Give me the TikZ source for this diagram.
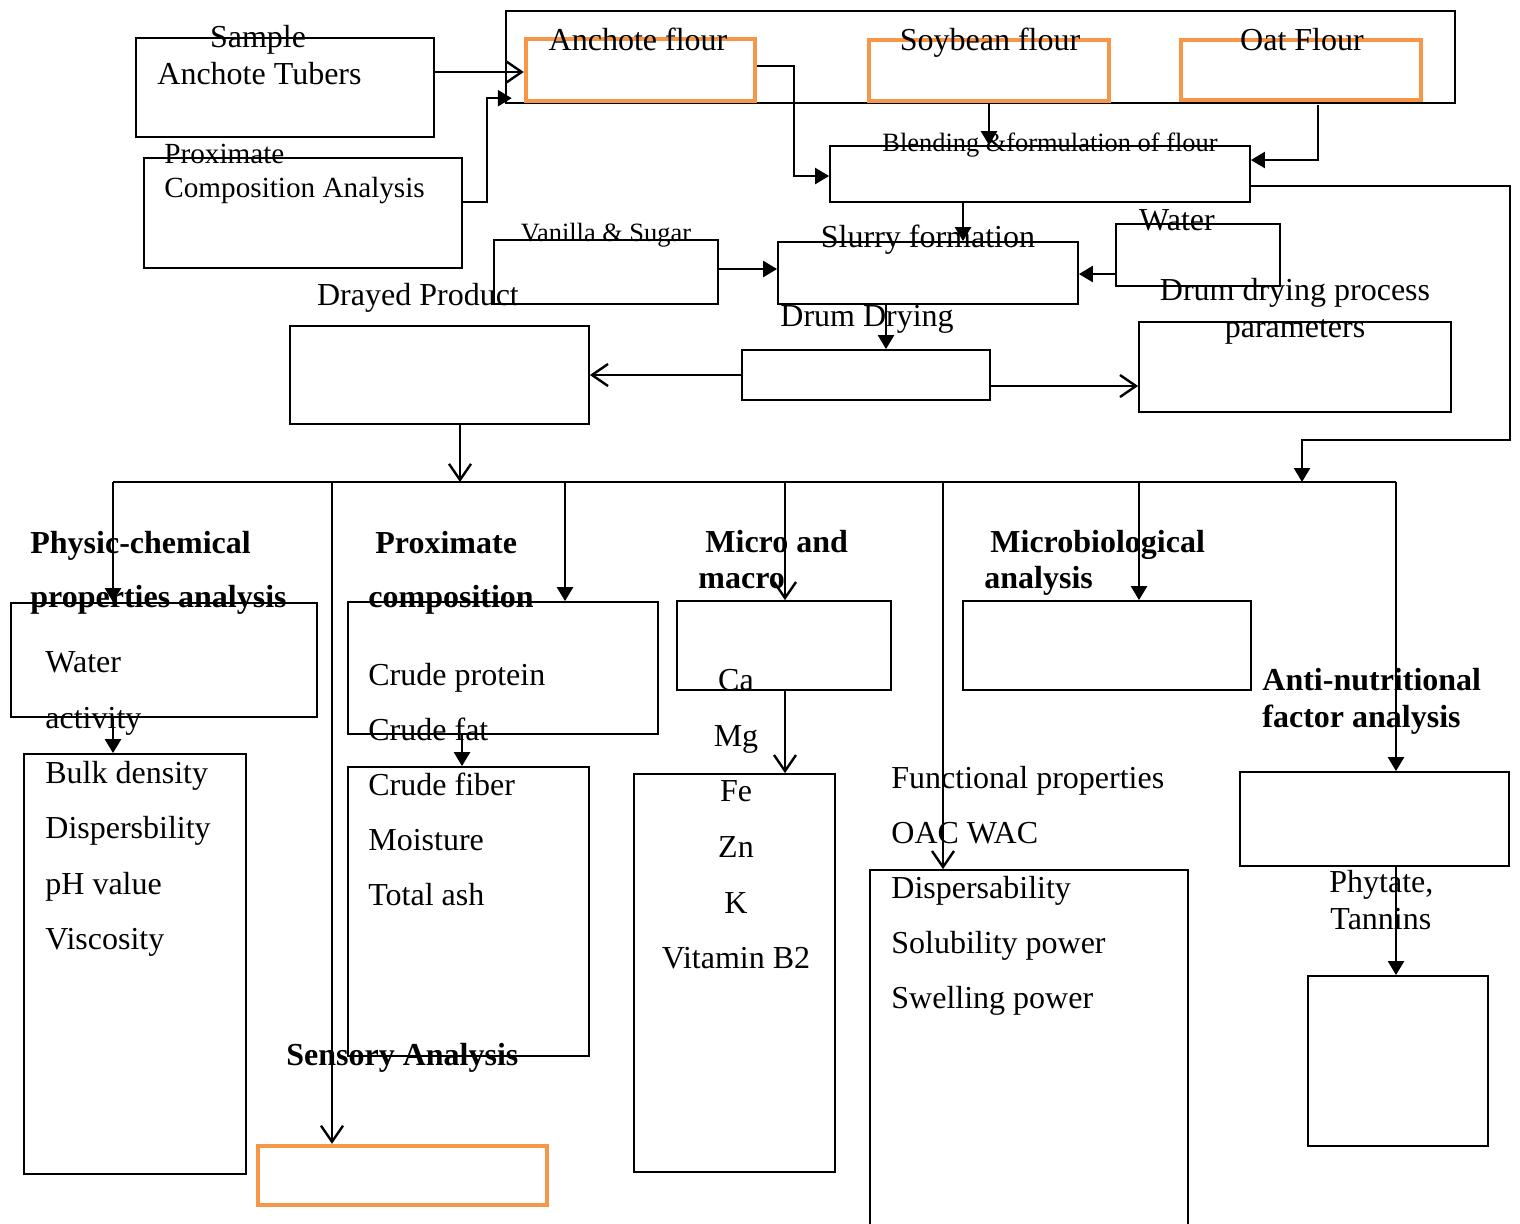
\documentclass[tikz,border=0pt]{standalone}
\usepackage{fontspec}
\setmainfont{Liberation Serif}
\usepackage{tikz}
\usetikzlibrary{arrows.meta}
\definecolor{flourorange}{HTML}{F79646}

\begin{document}
\begin{tikzpicture}[x=0.5pt, y=-0.5pt, font=\fontsize{16}{18}\selectfont,
  bx/.style={draw, line width=0.9pt, inner sep=0pt},
  ob/.style={draw=flourorange, line width=2.2pt, inner sep=0pt},
  lab/.style={inner sep=0pt, text height=0.66em, text depth=0pt, yshift=-2pt},
  labw/.style={lab, anchor=west},
  sml/.style={lab, font=\fontsize{13.2}{15}\selectfont},
  hd/.style={labw, font=\fontsize{16}{18}\selectfont\bfseries},
  ln/.style={line width=1.2pt},
  arf/.style={ln, -{Triangle[length=7pt, width=8pt]}},
  aro/.style={ln, -{Straight Barb[length=8pt, width=11pt]}}
]
\clip (0,0) rectangle (1520,1223);

% boxes of the process
\node[bx, minimum width=149pt, minimum height=49.5pt] (tubers) at (285,87.5) {};
\node[bx, minimum width=159pt, minimum height=55pt]   (pca)    at (303,213) {};
\node[bx, minimum width=474.5pt, minimum height=46pt] (outer)  at (980.5,57) {};
\node[ob, minimum width=114.5pt, minimum height=31pt] (flourA) at (640.5,70) {};
\node[ob, minimum width=120pt, minimum height=30.5pt] (soy)    at (989,70.5) {};
\node[ob, minimum width=120pt, minimum height=30pt]   (oat)    at (1301,70) {};
\node[bx, minimum width=210pt, minimum height=28pt]   (blend)  at (1040,174) {};
\node[bx, minimum width=112pt, minimum height=32pt]   (vanilla) at (606,272) {};
\node[bx, minimum width=150pt, minimum height=31pt]   (slurry) at (928,273) {};
\node[bx, minimum width=82pt, minimum height=31pt]    (water)  at (1198,255) {};
\node[bx, minimum width=156pt, minimum height=45pt]   (param)  at (1295,367) {};
\node[bx, minimum width=124pt, minimum height=25pt]   (drum)   at (866,375) {};
\node[bx, minimum width=149.5pt, minimum height=49pt] (dried)  at (439.5,375) {};

% boxes of the analyses
\node[bx, minimum width=153pt, minimum height=57pt]    (phy)     at (164,660) {};
\node[bx, minimum width=111pt, minimum height=210pt]   (bulk)    at (135,964) {};
\node[bx, minimum width=155pt, minimum height=66pt]    (prox)    at (503,668) {};
\node[bx, minimum width=120.5pt, minimum height=144.5pt] (fiber) at (468.5,911.5) {};
\node[bx, minimum width=107pt, minimum height=44.5pt]  (micro)   at (784,645.5) {};
\node[bx, minimum width=100.5pt, minimum height=199pt] (mineral) at (734.5,973) {};
\node[bx, minimum width=159pt, minimum height=185pt]   (func)    at (1029,1055) {};
\node[bx, minimum width=144pt, minimum height=44.5pt]  (bio)     at (1107,645.5) {};
\node[bx, minimum width=134.5pt, minimum height=47pt]  (anti)    at (1374.5,819) {};
\node[bx, minimum width=90pt, minimum height=85pt]     (phyt)    at (1398,1061) {};
\node[ob, minimum width=144.5pt, minimum height=29.5pt] (sensory) at (402.5,1175.5) {};

% labels
\node[lab]  (sampleT)  at (258,37)  {Sample};
\node[labw] (tubersT)  at (157,74)  {Anchote Tubers};
\node[labw, font=\fontsize{14.6}{17}\selectfont] (pcaT1) at (164,153) {Proximate};
\node[labw, font=\fontsize{14.6}{17}\selectfont] (pcaT2) at (164,187) {Composition Analysis};
\node[lab]  (flourAT)  at (638,40)  {Anchote flour};
\node[lab]  (soyT)     at (990,40)  {Soybean flour};
\node[lab]  (oatT)     at (1302,40) {Oat Flour};
\node[sml]  (blendT)   at (1050,141) {Blending \&formulation of flour};
\node[sml]  (vanillaT) at (606,231) {Vanilla \& Sugar};
\node[lab]  (slurryT)  at (928,237) {Slurry formation};
\node[lab]  (waterT)   at (1177,220) {Water};
\node[lab]  (paramT1)  at (1295,290) {Drum drying process};
\node[lab]  (paramT2)  at (1295,327) {parameters};
\node[labw] (drumT)    at (780,316) {Drum Drying};
\node[lab]  (driedT)   at (418,295) {Drayed Product};

\node[hd] (phyH1)  at (30,543)   {Physic-chemical};
\node[hd] (phyH2)  at (30,597)   {properties analysis};
\node[hd] (proxH1) at (375,543)  {Proximate};
\node[hd] (proxH2) at (368,597)  {composition};
\node[hd] (micH1)  at (705,542)  {Micro and};
\node[hd] (micH2)  at (698,578)  {macro};
\node[hd] (bioH1)  at (990,542)  {Microbiological};
\node[hd] (bioH2)  at (984,578)  {analysis};
\node[hd] (antiH1) at (1262,680) {Anti-nutritional};
\node[hd] (antiH2) at (1262,717) {factor analysis};
\node[hd] (senH)   at (286,1055) {Sensory Analysis};

\node[labw] (waT1) at (45,662) {Water};
\node[labw] (waT2) at (45,718) {activity};
\foreach \t [count=\i] in {Bulk density, Dispersbility, pH value, Viscosity}
  \node[labw] (bulk\i) at (45,{773+55.3*(\i-1)}) {\t};
\foreach \t [count=\i] in {Crude protein, Crude fat, Crude fiber, Moisture, Total ash}
  \node[labw] (crude\i) at (368,{675+55*(\i-1)}) {\t};
\foreach \t [count=\i] in {Ca, Mg, Fe, Zn, K, Vitamin B2}
  \node[lab] (min\i) at (736,{680+55.6*(\i-1)}) {\t};
\foreach \t [count=\i] in {Functional properties, OAC WAC, Dispersability, Solubility power, Swelling power}
  \node[labw] (fun\i) at (891,{778+55*(\i-1)}) {\t};
\node[labw] (phytT1) at (1329,882) {Phytate,};
\node[labw] (phytT2) at (1330,919) {Tannins};

% connectors of the process
\draw[aro] ([yshift=7.75pt]tubers.east) -- ([yshift=-1pt]flourA.west);
\draw[arf] ([yshift=5.5pt]pca.east) -- ++(12pt,0) |- ([xshift=-6pt,yshift=2.5pt]flourA.south west);
\draw[arf] ([yshift=2pt]flourA.east) -- ++(18.5pt,0) |- ([yshift=-1pt]blend.west);
\draw[arf] (soy.south |- outer.south) -- (soy.south |- blend.north);
\draw[arf] ([xshift=8.5pt]oat.south) ++(0,-1.5pt) |- ([yshift=7pt]blend.east);
\draw[arf] ([xshift=-38.5pt]blend.south) -- ([xshift=17.5pt]slurry.north);
\draw[arf] ([yshift=1.5pt]vanilla.east) -- ([yshift=2pt]slurry.west);
\draw[arf] ([yshift=-9.5pt]water.west) -- ([yshift=-0.5pt]slurry.east);
\draw[arf] ([xshift=-21pt]slurry.south) -- ([xshift=10pt]drum.north);
\draw[aro] (drum.west) -- (dried.east);
\draw[aro] ([yshift=-5.5pt]drum.east) -- ([yshift=-9.5pt]param.west);

% bus to the analyses
\coordinate (bPhy) at (113,482);
\coordinate (bSen) at (332,482);
\coordinate (bDry) at (460,482);
\coordinate (bPro) at (565,482);
\coordinate (bMic) at (785,482);
\coordinate (bFun) at (943,482);
\coordinate (bBio) at (1139,482);
\coordinate (bBle) at (1302,482);
\coordinate (bAnt) at (1396,482);

\draw[aro] ([xshift=10.25pt]dried.south) -- (bDry);
\draw[arf] ([yshift=-6pt]blend.east) -- ++(129.5pt,0) -- ++(0,-127pt) -| (bBle);
\draw[ln] (bPhy) -- (bAnt);

\foreach \a/\b in {bPhy/phy, bPro/prox, bBio/bio, bAnt/anti} \draw[arf] (\a) -- (\a |- \b.north);
\foreach \a/\b in {bSen/sensory, bMic/micro, bFun/func} \draw[aro] (\a) -- (\a |- \b.north);

\draw[arf] (phy.south -| bPhy) -- (bulk.north -| bPhy);
\draw[arf] ([xshift=-20.5pt]prox.south) -- ([xshift=-3.25pt]fiber.north);
\draw[aro] (micro.south -| bMic) -- (mineral.north -| bMic);
\draw[arf] (anti.south -| bAnt) -- (phyt.north -| bAnt);
\end{tikzpicture}
\end{document}
